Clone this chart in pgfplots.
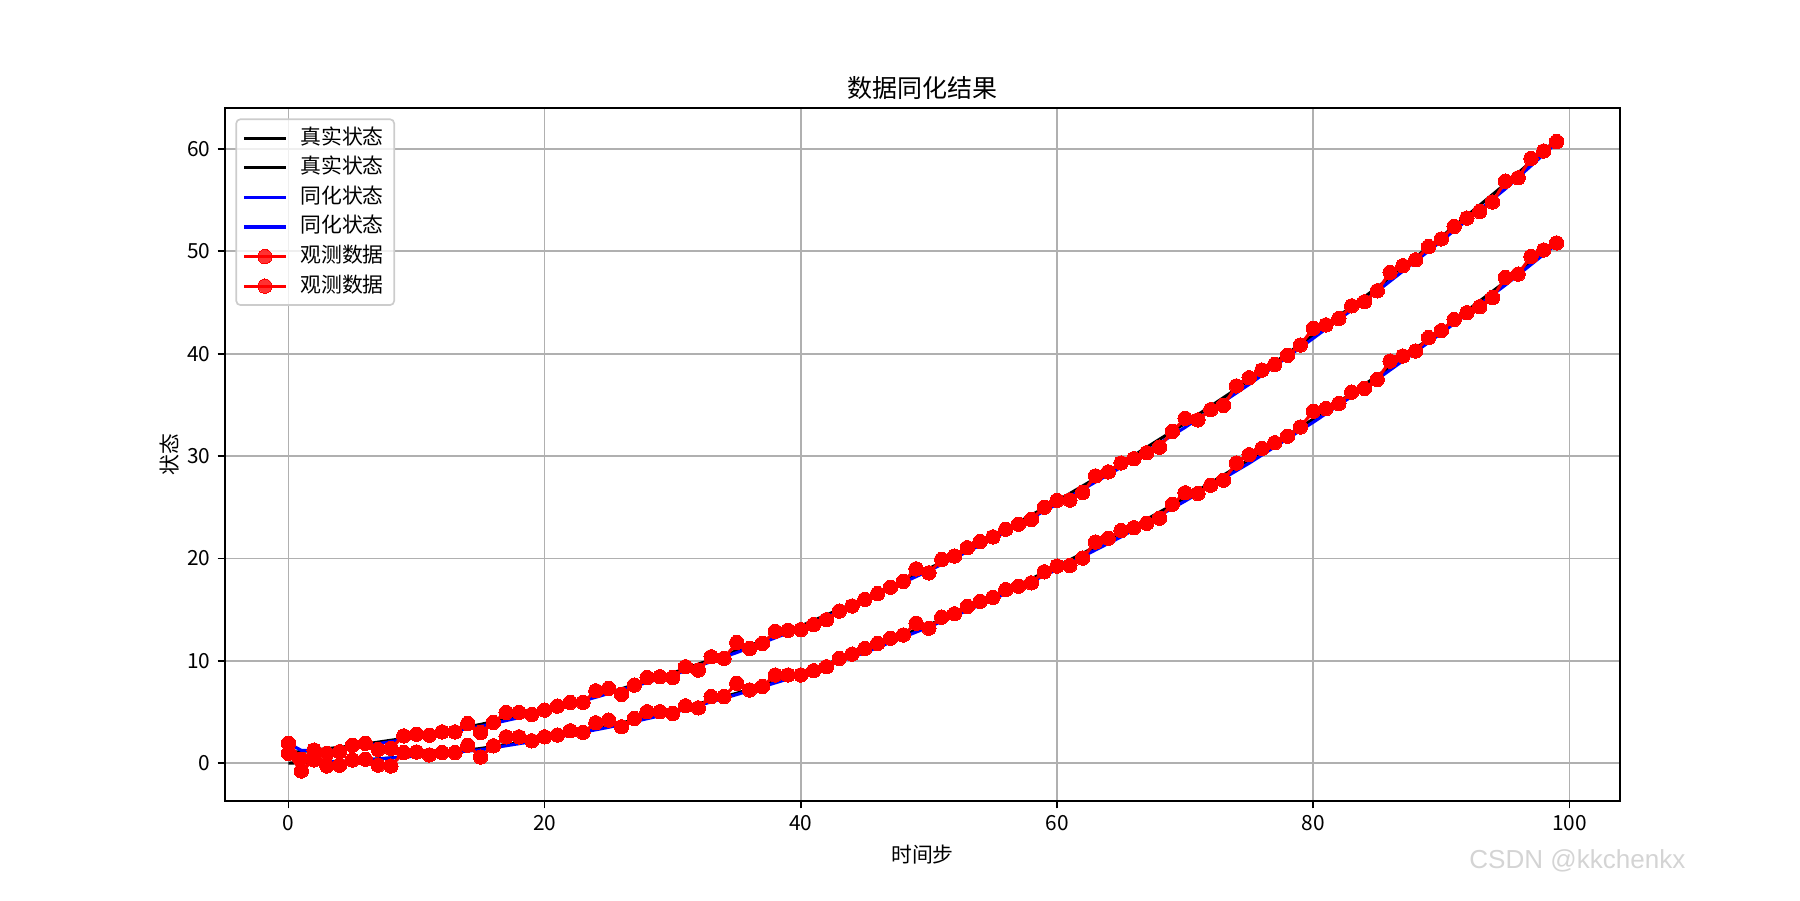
\documentclass[border=0pt]{standalone}
\usepackage{fontspec}
\setmainfont{Noto Sans CJK SC}
\newfontfamily\wmfont{Liberation Sans}
\usepackage{pgfplots}
\usepackage{pgfplotstable}
\pgfplotsset{compat=1.18}
\definecolor{gridgray}{HTML}{B0B0B0}
\definecolor{legedge}{HTML}{CCCCCC}
\definecolor{wmgray}{HTML}{D4D4D4}

% observations: t, upper, lower
\pgfplotstableread{
t u l
0 1.94 0.96
1 0.38 -0.77
2 1.28 0.31
3 0.96 -0.28
4 1.12 -0.20
5 1.74 0.31
6 1.94 0.38
7 1.35 -0.20
8 1.45 -0.28
9 2.66 1.03
10 2.82 1.09
11 2.73 0.80
12 3.05 1.03
13 3.05 1.03
14 3.87 1.75
15 2.99 0.60
16 3.97 1.69
17 4.95 2.57
18 4.95 2.57
19 4.76 2.18
20 5.18 2.57
21 5.57 2.74
22 5.93 3.16
23 5.93 3.00
24 7.07 3.94
25 7.30 4.20
26 6.71 3.55
27 7.62 4.36
28 8.37 5.02
29 8.44 5.02
30 8.36 4.85
31 9.42 5.60
32 9.09 5.40
33 10.39 6.50
34 10.23 6.50
35 11.78 7.80
36 11.20 7.15
37 11.68 7.48
38 12.88 8.61
39 12.98 8.61
40 13.04 8.61
41 13.53 9.03
42 14.01 9.42
43 14.85 10.23
44 15.35 10.65
45 16.00 11.20
46 16.56 11.70
47 17.18 12.20
48 17.74 12.52
49 18.98 13.67
50 18.59 13.18
51 19.90 14.26
52 20.23 14.59
53 21.05 15.31
54 21.64 15.80
55 22.10 16.20
56 22.85 16.95
57 23.34 17.28
58 23.80 17.61
59 25.00 18.69
60 25.67 19.25
61 25.70 19.30
62 26.44 20.03
63 28.06 21.60
64 28.45 21.97
65 29.32 22.72
66 29.74 23.00
67 30.32 23.43
68 30.87 23.92
69 32.39 25.28
70 33.69 26.41
71 33.53 26.34
72 34.53 27.15
73 34.95 27.64
74 36.85 29.32
75 37.65 30.13
76 38.40 30.75
77 38.95 31.30
78 39.84 31.93
79 40.85 32.84
80 42.48 34.38
81 42.81 34.64
82 43.43 35.13
83 44.67 36.24
84 45.07 36.60
85 46.14 37.48
86 47.94 39.28
87 48.59 39.77
88 49.17 40.26
89 50.46 41.57
90 51.21 42.25
91 52.43 43.34
92 53.25 44.00
93 53.90 44.59
94 54.82 45.48
95 56.85 47.44
96 57.18 47.77
97 59.08 49.51
98 59.80 50.13
99 60.72 50.82
}\obs

% true states
\pgfplotstableread{
t u l
0 1.00 0.00
5 1.68 0.23
10 2.60 0.70
15 3.78 1.43
20 5.20 2.40
25 6.88 3.63
30 8.80 5.10
35 10.98 6.83
40 13.40 8.80
45 16.08 11.03
50 19.00 13.50
55 22.18 16.23
60 25.60 19.20
65 29.28 22.43
70 33.20 25.90
75 37.38 29.63
80 41.80 33.60
85 46.48 37.83
90 51.40 42.30
95 56.58 47.03
99 60.90 50.99
}\truth

% assimilated states
\pgfplotstableread{
t u l
0 1.94 0.96
1 1.25 0.30
2 1.25 0.22
3 1.20 0.12
5 1.50 0.20
10 2.50 0.70
15 3.60 1.30
20 5.00 2.30
25 6.80 3.50
30 8.60 4.90
35 10.80 6.70
40 13.20 8.60
45 15.90 10.80
50 18.80 13.30
55 21.90 16.00
60 25.30 18.90
65 28.90 22.10
70 32.80 25.60
75 37.00 29.30
80 41.50 33.30
85 46.10 37.50
90 51.00 42.00
95 56.10 46.70
99 60.60 50.70
}\assim

\begin{document}
\begin{tikzpicture}
\begin{axis}[
  at={(108pt,47.52pt)}, anchor=south west,
  width=669.6pt, height=332.64pt, scale only axis,
  xmin=-4.95, xmax=103.95, ymin=-3.7, ymax=64,
  xtick={0,20,40,60,80,100}, ytick={0,10,20,30,40,50,60},
  xtick pos=left, ytick pos=left, tick align=outside,
  major tick length=3.5pt,
  every tick/.style={black, line width=0.8pt},
  axis line style={line width=0.8pt},
  grid=major,
  major grid style={gridgray, line width=0.8pt},
  /pgf/number format/assume math mode=true,
  ticklabel style={font=\fontsize{10}{12}\selectfont},
  title={数据同化结果},
  title style={font=\fontsize{12}{14}\selectfont, yshift=-5.6pt},
  xlabel={时间步}, ylabel={状态},
  ylabel shift=-3pt,
  label style={font=\fontsize{10}{12}\selectfont},
  legend style={at={(0,1)}, anchor=north west, xshift=5pt, yshift=-5pt,
    draw=legedge, line width=0.8pt, rounded corners=2pt, fill=white, fill opacity=0.8, text opacity=1,
    font=\fontsize{10}{12}\selectfont, row sep=0pt, inner xsep=3pt, inner ysep=2pt,
    nodes={text height=8pt, text depth=2.2pt, inner ysep=2pt},
    /tikz/every odd column/.append style={column sep=4.3pt}},
  legend cell align=left,
  legend image code/.code={\draw[mark repeat=2, mark phase=2, #1] plot coordinates {(0pt,0pt) (10pt,0pt) (20pt,0pt)};},
]
\addplot[black, line width=1.5pt, no marks] table[x=t, y=u] {\truth};
\addlegendentry{真实状态}
\addplot[black, line width=1.5pt, no marks] table[x=t, y=l] {\truth};
\addlegendentry{真实状态}
\addplot[blue, line width=1.5pt, no marks] table[x=t, y=u] {\assim};
\addlegendentry{同化状态}
\addplot[blue, line width=1.5pt, no marks] table[x=t, y=l] {\assim};
\addlegendentry{同化状态}
\addplot[red, line width=1.5pt, mark=*, mark size=3.45pt, mark options={fill=red, draw=red, line width=0pt}] table[x=t, y=u] {\obs};
\addlegendentry{观测数据}
\addplot[red, line width=1.5pt, mark=*, mark size=3.45pt, mark options={fill=red, draw=red, line width=0pt}] table[x=t, y=l] {\obs};
\addlegendentry{观测数据}
\end{axis}
\node[anchor=base east, text=wmgray, font=\wmfont\fontsize{12.5}{14}\selectfont] at (812.5pt,15pt) {CSDN @kkchenkx};
\pgfresetboundingbox
\path[use as bounding box] (0,0) rectangle (864pt,432pt);
\end{tikzpicture}
\end{document}
